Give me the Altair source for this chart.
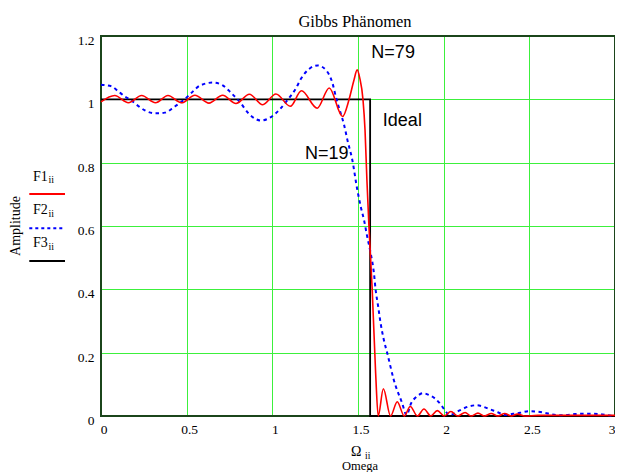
import altair as alt
import pandas as pd

# ---------------- data ----------------
# F1 (N=79)
f1_omega = [0.000, 0.080, 0.160, 0.237, 0.318, 0.391, 0.470, 0.548, 0.630, 0.710,
            0.788, 0.866, 0.944, 1.021, 1.105, 1.170, 1.262, 1.332, 1.410, 1.448,
            1.477, 1.495, 1.510, 1.529, 1.541, 1.552, 1.564, 1.583, 1.603, 1.618,
            1.648, 1.690, 1.729, 1.770, 1.805, 1.847, 1.885, 1.925, 1.963, 2.003,
            2.042, 2.082, 2.125, 2.160, 2.200, 2.239, 2.277, 2.317, 2.356, 2.396,
            2.430, 2.474, 2.550, 2.700, 2.850, 3.000]
f1_amp = [0.992, 1.012, 0.989, 1.012, 0.989, 1.012, 0.989, 1.013, 0.988, 1.013,
          0.987, 1.016, 0.983, 1.017, 0.978, 1.027, 0.972, 1.036, 0.946, 1.000,
          1.062, 1.093, 1.068, 1.000, 0.903, 0.745, 0.598, 0.398, 0.135, 0.000,
          0.086, 0.000, 0.045, 0.000, 0.030, 0.000, 0.022, 0.000, 0.017, 0.000,
          0.014, 0.000, 0.011, 0.000, 0.009, 0.000, 0.008, 0.000, 0.008, 0.000,
          0.006, 0.000, 0.002, 0.002, 0.002, 0.002]

# F2 (N=19)
f2_omega = [0.000, 0.062, 0.101, 0.140, 0.178, 0.217, 0.256, 0.314, 0.372, 0.430,
            0.479, 0.527, 0.576, 0.653, 0.711, 0.760, 0.808, 0.866, 0.934, 0.992,
            1.041, 1.089, 1.138, 1.167, 1.215, 1.264, 1.312, 1.351, 1.374, 1.399,
            1.419, 1.438, 1.467, 1.496, 1.516, 1.535, 1.554, 1.574, 1.593, 1.603,
            1.618, 1.632, 1.651, 1.671, 1.709, 1.758, 1.783, 1.810, 1.845, 1.880,
            1.915, 1.952, 1.985, 2.015, 2.033, 2.087, 2.145, 2.194, 2.233, 2.271,
            2.316, 2.358, 2.397, 2.446, 2.494, 2.543, 2.591, 2.630, 2.678, 2.717,
            2.766, 2.814, 2.862, 2.911, 2.960, 3.000]
f2_amp = [1.046, 1.041, 1.025, 1.009, 0.996, 0.979, 0.965, 0.956, 0.958, 0.977,
          0.996, 1.020, 1.043, 1.053, 1.044, 1.020, 0.993, 0.953, 0.933, 0.944,
          0.967, 0.998, 1.035, 1.065, 1.096, 1.107, 1.093, 1.051, 1.001, 0.956,
          0.919, 0.872, 0.808, 0.714, 0.661, 0.619, 0.566, 0.514, 0.451, 0.398,
          0.345, 0.293, 0.240, 0.198, 0.114, 0.040, 0.003, 0.040, 0.062, 0.072,
          0.066, 0.054, 0.035, 0.012, 0.003, 0.016, 0.030, 0.034, 0.029, 0.021,
          0.012, 0.003, 0.006, 0.010, 0.015, 0.014, 0.010, 0.005, 0.002, 0.003,
          0.006, 0.007, 0.007, 0.006, 0.002, 0.000]

# F3 (ideal)
f3_omega = [0.0, 1.5708, 1.5708, 3.0]
f3_amp = [1.0, 1.0, 0.0, 0.0]

x_ticks = [0, 0.5, 1, 1.5, 2, 2.5, 3]
y_ticks = [0, 0.2, 0.4, 0.6, 0.8, 1.0, 1.2]

note_text = ["N=79", "Ideal", "N=19"]
note_omega = [1.578, 1.645, 1.190]
note_amp = [1.1295, 0.9166, 0.8115]

# ---------------- styling ----------------
SERIF = "Liberation Serif"
SANS = "Liberation Sans"
GRID = "#3cf03c"
FRAME = "#1b451b"
W, H = 514, 380


def frame_df(xs, ys):
    return pd.DataFrame({"X": xs, "Y": ys, "i": list(range(len(xs)))})


d1 = frame_df(f1_omega, f1_amp)
d2 = frame_df(f2_omega, f2_amp)
d3 = frame_df(f3_omega, f3_amp)
notes = pd.DataFrame({"label": note_text, "X": note_omega, "Y": note_amp})
one = pd.DataFrame({"a": [0]})

xscale = alt.Scale(domain=[0, 3], nice=False, zero=False)
yscale = alt.Scale(domain=[0, 1.2], nice=False, zero=False)

last_x = x_ticks[-1]
xaxis = alt.Axis(values=x_ticks, format="~g", title=None, ticks=False, domain=False,
                 grid=True, gridColor=GRID, gridWidth=1, labelFont=SERIF,
                 labelFontSize=13.5, labelColor="black", labelPadding=6,
                 labelFlush=False, labelAngle=0,
                 labelAlign={"condition": {"test": f"datum.value >= {last_x}",
                                           "value": "right"}, "value": "center"},
                 labelOffset={"condition": {"test": f"datum.value >= {last_x}",
                                            "value": 0}, "value": 2.5})
yaxis = alt.Axis(values=y_ticks, format="~g", title=None, ticks=False, domain=False,
                 grid=True, gridColor=GRID, gridWidth=1, labelFont=SERIF,
                 labelFontSize=13.5, labelColor="black", labelPadding=7,
                 labelBaseline="top", labelOffset=-2.5, labelFlush=False,
                 labelAlign="right")

X = alt.X("X:Q", scale=xscale, axis=xaxis)
Y = alt.Y("Y:Q", scale=yscale, axis=yaxis)

frame = alt.Chart(one).mark_rect(filled=False, stroke=FRAME, strokeWidth=2).encode(
    x=alt.value(0), x2=alt.value(W), y=alt.value(0), y2=alt.value(H))

ideal = alt.Chart(d3).mark_line(color="black", strokeWidth=1.8).encode(
    x=X, y=Y, order="i:Q")
blue = alt.Chart(d2).mark_line(color="#0000ff", strokeWidth=2, strokeDash=[3.5, 3.5],
                               interpolate="monotone").encode(x=X, y=Y, order="i:Q")
red = alt.Chart(d1).mark_line(color="#ff0000", strokeWidth=1.6,
                              interpolate="monotone").encode(x=X, y=Y, order="i:Q")

ann = alt.Chart(notes).mark_text(font=SANS, fontSize=18, align="left",
                                 baseline="alphabetic", color="black").encode(
    x=alt.X("X:Q", scale=xscale), y=alt.Y("Y:Q", scale=yscale), text="label:N")


def txt(s, x, y, size=13.5, font=SERIF, align="left", baseline="alphabetic", angle=0):
    kw = dict(text=s, font=font, fontSize=size, align=align, baseline=baseline,
              color="black")
    if angle:
        kw["angle"] = angle
    return alt.Chart(one).mark_text(**kw).encode(x=alt.value(x), y=alt.value(y))


def sample(color, y, dash=None):
    kw = dict(color=color, strokeWidth=2)
    if dash:
        kw["strokeDash"] = dash
    return alt.Chart(one).mark_rule(**kw).encode(
        x=alt.value(-71.7), x2=alt.value(-36), y=alt.value(y))


texts = [
    txt("Gibbs Phänomen", 254, -9.3, size=16.5, align="center"),
    txt("F1", -68, 144.7, size=14), txt("ii", -52.5, 147.3, size=10),
    txt("F2", -68, 178, size=14), txt("ii", -52.5, 181, size=10),
    txt("F3", -68, 210.7, size=14), txt("ii", -52.5, 214, size=10),
    txt("Amplitude", -85.5, 190, size=14, align="center", baseline="middle", angle=270),
    txt("Ω", 250, 420, size=14), txt("ii", 264, 422.5, size=9.5),
    txt("Omega", 259, 434, size=12.5, align="center"),
    sample("#ff0000", 158), sample("#0000ff", 192.3, [3, 3]), sample("black", 225),
]

chart = alt.layer(frame, ideal, blue, red, ann, *texts).properties(
    width=W, height=H,
    padding={"left": 93, "top": 28, "right": 0, "bottom": 56},
    autosize=alt.AutoSizeParams(type="none"),
    background="white",
).configure_view(stroke=None)

chart.save("out.html", embed_options={"renderer": "svg", "actions": False})
